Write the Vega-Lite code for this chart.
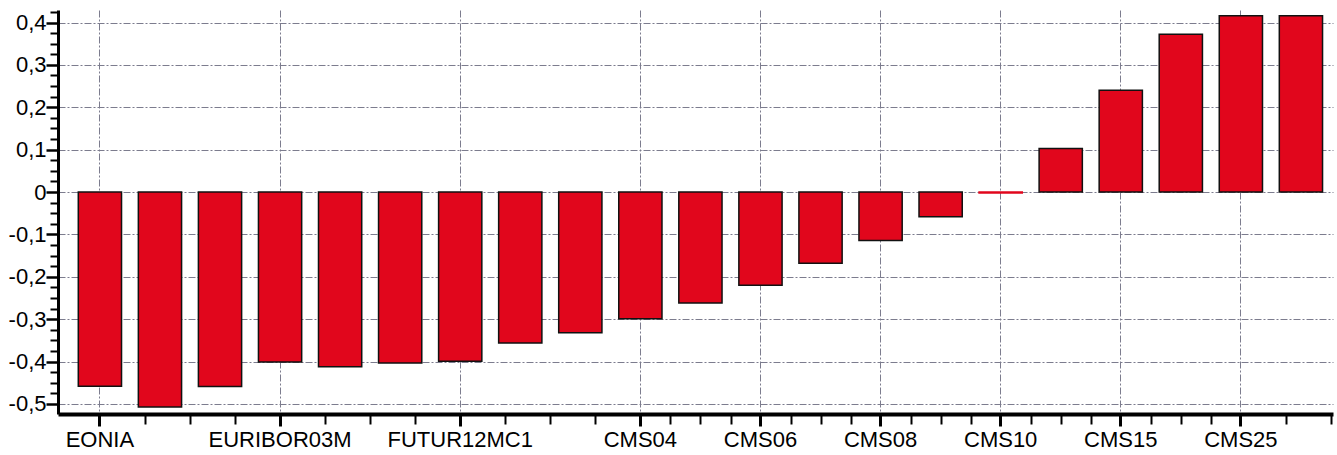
{
  "$schema": "https://vega.github.io/schema/vega-lite/v6.json",
  "autosize": "none",
  "width": 1275,
  "height": 404,
  "padding": {"left": 58, "top": 10, "right": 4, "bottom": 41},
  "background": "#ffffff",
  "config": {
    "view": {"stroke": null},
    "font": "Liberation Sans",
    "locale": {
      "number": {"decimal": ",", "thousands": ".", "grouping": [3], "currency": ["", " €"], "minus": "-"}
    }
  },
  "data": {
    "values": [
      {"cat": "EONIA", "value": -0.458},
      {"cat": "EURIBOR01W", "value": -0.507},
      {"cat": "EURIBOR01M", "value": -0.459},
      {"cat": "EURIBOR03M", "value": -0.401},
      {"cat": "EURIBOR06M", "value": -0.412},
      {"cat": "EURIBOR12M", "value": -0.403},
      {"cat": "FUTUR12MC1", "value": -0.399},
      {"cat": "CMS02", "value": -0.356},
      {"cat": "CMS03", "value": -0.332},
      {"cat": "CMS04", "value": -0.299},
      {"cat": "CMS05", "value": -0.262},
      {"cat": "CMS06", "value": -0.220},
      {"cat": "CMS07", "value": -0.168},
      {"cat": "CMS08", "value": -0.114},
      {"cat": "CMS09", "value": -0.058},
      {"cat": "CMS10", "value": -0.002},
      {"cat": "CMS12", "value": 0.103},
      {"cat": "CMS15", "value": 0.240},
      {"cat": "CMS20", "value": 0.372},
      {"cat": "CMS25", "value": 0.416},
      {"cat": "CMS30", "value": 0.416}
    ]
  },
  "layer": [
    {
      "mark": {"type": "bar", "fill": "#e1061c", "strokeWidth": 1.5},
      "encoding": {
        "x": {
          "field": "cat",
          "type": "nominal",
          "sort": null,
          "scale": {"paddingInner": 0.28, "paddingOuter": 0.256, "align": 0.66, "round": false},
          "axis": {
            "title": null,
            "values": ["EONIA", "EURIBOR03M", "FUTUR12MC1", "CMS04", "CMS06", "CMS08", "CMS10", "CMS15", "CMS25"],
            "labelAngle": 0,
            "labelPadding": 3,
            "labelFontSize": 22,
            "grid": true,
            "gridColor": "#7c7c8e",
            "gridDash": [7, 2, 2, 2],
            "ticks": true,
            "tickColor": "#000000",
            "tickSize": 12,
            "tickWidth": 3,
            "domainWidth": 4,
            "domainColor": "#000000"
          }
        },
        "y": {
          "field": "value",
          "type": "quantitative",
          "scale": {"domain": [-0.5236, 0.4295], "nice": false, "zero": false},
          "axis": {
            "title": null,
            "values": [-0.5, -0.4, -0.3, -0.2, -0.1, 0, 0.1, 0.2, 0.3, 0.4],
            "format": ".1~f",
            "labelPadding": 0,
            "labelFontSize": 22,
            "grid": true,
            "gridColor": "#7c7c8e",
            "gridDash": [7, 2, 2, 2],
            "ticks": true,
            "tickColor": "#000000",
            "tickSize": 12,
            "tickWidth": 2.5,
            "domainWidth": 3,
            "domainColor": "#000000"
          }
        },
        "stroke": {
          "condition": {"test": "abs(datum.value) < 0.01", "value": "#e1061c"},
          "value": "#111111"
        }
      }
    },
    {
      "mark": {"type": "point", "opacity": 0},
      "encoding": {
        "x": {
          "field": "value",
          "type": "quantitative",
          "scale": {"domain": [0.3006, 21.533], "nice": false, "zero": false},
          "axis": {
            "orient": "bottom",
            "title": null,
            "values": [1.75, 2.5, 3.25, 4.75, 5.5, 6.25, 7.75, 8.5, 9.25, 10.5, 11, 11.5, 12.5, 13, 13.5, 14.5, 15, 15.5, 16.5, 17, 17.5, 18.5, 19, 19.5, 20.75, 21.5],
            "labels": false,
            "domain": false,
            "grid": false,
            "tickColor": "#000000",
            "tickSize": 10,
            "tickWidth": 2
          }
        },
        "y": {
          "field": "value",
          "type": "quantitative",
          "scale": {"domain": [-0.5236, 0.4295], "nice": false, "zero": false},
          "axis": {
            "orient": "left",
            "title": null,
            "values": [-0.475, -0.45, -0.425, -0.375, -0.35, -0.325, -0.275, -0.25, -0.225, -0.175, -0.15, -0.125, -0.075, -0.05, -0.025, 0.025, 0.05, 0.075, 0.125, 0.15, 0.175, 0.225, 0.25, 0.275, 0.325, 0.35, 0.375, 0.425],
            "labels": false,
            "domain": false,
            "grid": false,
            "tickColor": "#000000",
            "tickSize": 8,
            "tickWidth": 2
          }
        }
      }
    }
  ],
  "resolve": {"scale": {"x": "independent", "y": "independent"}}
}
